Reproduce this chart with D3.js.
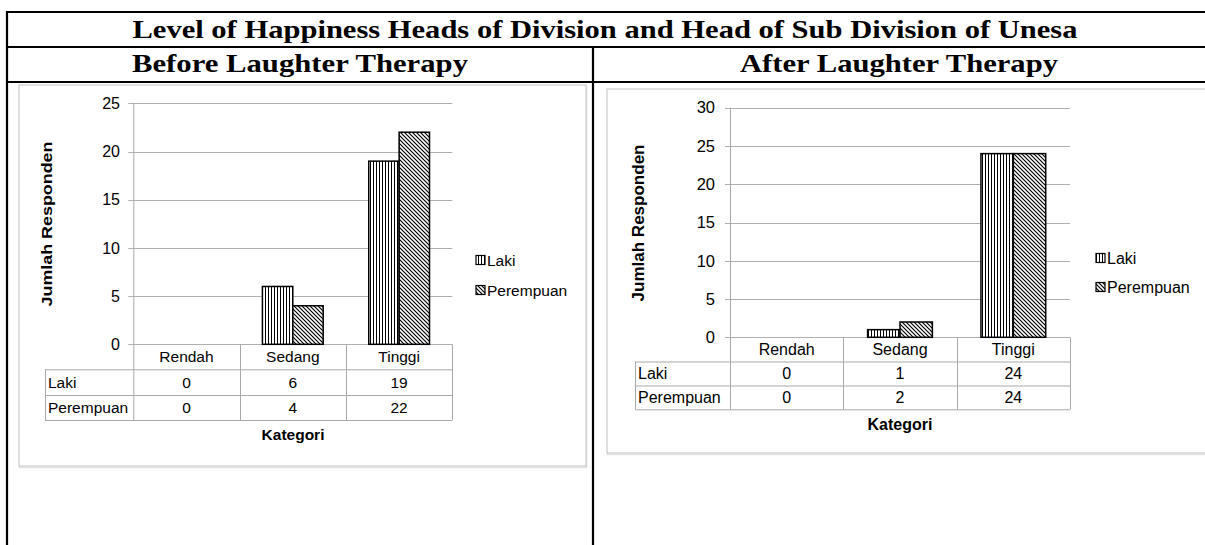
<!DOCTYPE html>
<html><head><meta charset="utf-8">
<script src="https://cdn.jsdelivr.net/npm/d3@7"></script>
<style>body{margin:0;background:#fff}svg{display:block}</style>
</head><body><svg id="c" width="1205" height="545"></svg>
<script>
const mainTitle = "Level of Happiness Heads of Division and Head of Sub Division of Unesa";
const subTitles = ["Before Laughter Therapy", "After Laughter Therapy"];
const categories = ["Rendah", "Sedang", "Tinggi"];
const seriesNames = ["Laki", "Perempuan"];
const beforeLaki = [0, 6, 19];
const beforePerempuan = [0, 4, 22];
const afterLaki = [0, 1, 24];
const afterPerempuan = [0, 2, 24];
const beforeTicks = [0, 5, 10, 15, 20, 25];
const afterTicks = [0, 5, 10, 15, 20, 25, 30];
const yTitle = "Jumlah Responden";
const xTitle = "Kategori";

const svg = d3.select("#c");
const defs = svg.append("defs");
// vertical stripes (Laki)
const p1 = defs.append("pattern").attr("id","pV").attr("patternUnits","userSpaceOnUse").attr("width",3).attr("height",3);
p1.append("rect").attr("width",3).attr("height",3).attr("fill","#fff");
p1.append("rect").attr("x",1).attr("width",1).attr("height",3).attr("fill","#000");
// diagonal stripes (Perempuan) "\"
const p2 = defs.append("pattern").attr("id","pD").attr("patternUnits","userSpaceOnUse").attr("width",4).attr("height",4);
p2.append("rect").attr("width",4).attr("height",4).attr("fill","#fff");
p2.append("path").attr("d","M-1,-1L5,5M-1,3L1,5M3,-1L5,1").attr("stroke","#000").attr("stroke-width",1.2);
const fills = ["url(#pV)","url(#pD)"];

// Outer document table
const tbl = svg.append("g");
const blk = (x1,y1,x2,y2)=>tbl.append("line").attr("x1",x1).attr("y1",y1).attr("x2",x2).attr("y2",y2).attr("stroke","#000").attr("stroke-width",2.2);
blk(6,12,1205,12); blk(6,47,1205,47); blk(6,82,1205,82);
blk(7,11,7,545); blk(593,47,593,545);

const serif = "'Liberation Serif','Times New Roman',serif";
svg.append("text").attr("x",605).attr("y",38).attr("text-anchor","middle")
  .attr("font-family",serif).attr("font-weight","bold").attr("font-size",26)
  .attr("textLength",945).attr("lengthAdjust","spacingAndGlyphs").text(mainTitle);
svg.append("text").attr("x",300).attr("y",72).attr("text-anchor","middle")
  .attr("font-family",serif).attr("font-weight","bold").attr("font-size",26)
  .attr("textLength",336).attr("lengthAdjust","spacingAndGlyphs").text(subTitles[0]);
svg.append("text").attr("x",899).attr("y",72).attr("text-anchor","middle")
  .attr("font-family",serif).attr("font-weight","bold").attr("font-size",26)
  .attr("textLength",318).attr("lengthAdjust","spacingAndGlyphs").text(subTitles[1]);

const sans = "'Liberation Sans',Arial,sans-serif";

function drawChart(c) {
  const g = svg.append("g");
  // chart frame
  g.append("rect").attr("x",c.box[0]+0.5).attr("y",c.box[1]+1.5).attr("width",c.box[2]-c.box[0]).attr("height",c.box[3]-c.box[1])
    .attr("fill","none").attr("stroke","#e2e2e2").attr("stroke-width",1.5);
  g.append("rect").attr("x",c.box[0]).attr("y",c.box[1]).attr("width",c.box[2]-c.box[0]).attr("height",c.box[3]-c.box[1])
    .attr("fill","#fff").attr("stroke","#c4c4c4").attr("stroke-width",1);

  const y = d3.scaleLinear().domain([0, d3.max(c.ticks)]).range([c.y0, c.yTop]);
  const x = d3.scaleBand().domain(categories).range([c.xL, c.xR]).paddingInner(0.4286).paddingOuter(0.2143);
  const xs = d3.scaleBand().domain(seriesNames).range([0, x.bandwidth()]);
  const step = x.step();

  // gridlines
  g.append("g").selectAll("line").data(c.ticks).join("line")
    .attr("x1",c.xL-5).attr("x2",c.xR).attr("y1",d=>Math.round(y(d))+0.5).attr("y2",d=>Math.round(y(d))+0.5)
    .attr("stroke","#b0b0b0").attr("stroke-width",1);
  // y axis labels
  const ya = d3.axisLeft(y).tickValues(c.ticks).tickSize(0).tickPadding(0);
  const yg = g.append("g").attr("transform",`translate(${c.tickLabelX},0)`).call(ya);
  yg.select(".domain").remove();
  yg.selectAll("text").attr("font-family",sans).attr("font-size",c.fs+0.5).attr("fill","#000");

  // bars
  const vals = [c.laki, c.perempuan];
  seriesNames.forEach((s,si)=>{
    g.append("g").selectAll("rect").data(categories.map((cat,i)=>({cat,v:vals[si][i]}))).join("rect")
      .attr("x",d=>x(d.cat)+xs(s)).attr("width",xs.bandwidth())
      .attr("y",d=>y(d.v)).attr("height",d=>y(0)-y(d.v))
      .attr("fill",fills[si]).attr("stroke",d=>d.v>0?"#000":"none").attr("stroke-width",1.5);
  });

  // data table grid
  const tg = g.append("g").attr("stroke","#a8a8a8").attr("stroke-width",1).attr("fill","none");
  const rows = c.rows; // [axis, header bottom, row1 bottom, row2 bottom]
  tg.append("line").attr("x1",c.xL+0.5).attr("x2",c.xL+0.5).attr("y1",c.yTop).attr("y2",rows[3]);
  categories.forEach((cat,i)=>{
    const xx = Math.round(c.xL + step*(i+1))+0.5;
    tg.append("line").attr("x1",xx).attr("x2",xx).attr("y1",rows[0]).attr("y2",rows[3]);
  });
  tg.append("line").attr("x1",c.tableL).attr("x2",c.xR).attr("y1",rows[1]+0.5).attr("y2",rows[1]+0.5);
  tg.append("line").attr("x1",c.tableL).attr("x2",c.xR).attr("y1",rows[2]+0.5).attr("y2",rows[2]+0.5);
  tg.append("line").attr("x1",c.tableL).attr("x2",c.xR).attr("y1",rows[3]+0.5).attr("y2",rows[3]+0.5);
  tg.append("line").attr("x1",c.tableL+0.5).attr("x2",c.tableL+0.5).attr("y1",rows[1]).attr("y2",rows[3]);

  const tx = g.append("g").attr("font-family",sans).attr("font-size",c.fs).attr("fill","#000");
  categories.forEach((cat,i)=>{
    const cx = c.xL + step*(i+0.5);
    tx.append("text").attr("x",cx).attr("y",(rows[0]+rows[1])/2).attr("dy","0.36em").attr("text-anchor","middle").text(cat);
    vals.forEach((arr,si)=>{
      tx.append("text").attr("x",cx).attr("y",(rows[si+1]+rows[si+2])/2).attr("dy","0.36em").attr("text-anchor","middle").text(arr[i]);
    });
  });
  seriesNames.forEach((s,si)=>{
    tx.append("text").attr("x",c.tableL+3).attr("y",(rows[si+1]+rows[si+2])/2).attr("dy","0.36em").text(s);
  });

  // axis titles
  g.append("text").attr("x",c.xTitle[0]).attr("y",c.xTitle[1]).attr("dy","0.36em").attr("text-anchor","middle")
    .attr("font-family",sans).attr("font-weight","bold").attr("font-size",c.fs).text(xTitle);
  g.append("text").attr("transform",`translate(${c.yTitle[0]},${c.yTitle[1]}) rotate(-90)`).attr("dy","0.36em")
    .attr("text-anchor","middle").attr("font-family",sans).attr("font-weight","bold").attr("font-size",c.fs)
    .attr("textLength",c.yTitle[2]).attr("lengthAdjust","spacingAndGlyphs").text(yTitle);

  // legend
  const lg = g.append("g");
  seriesNames.forEach((s,si)=>{
    const cy = c.legend[1] + si*c.legend[2];
    lg.append("rect").attr("x",c.legend[0]).attr("y",cy-4.5).attr("width",9).attr("height",9)
      .attr("fill",fills[si]).attr("stroke","#000").attr("stroke-width",1.2);
    lg.append("text").attr("x",c.legend[0]+11).attr("y",cy).attr("dy","0.36em")
      .attr("font-family",sans).attr("font-size",c.fs).text(s);
  });
}

drawChart({box:[19,85,586,466], ticks:beforeTicks, laki:beforeLaki, perempuan:beforePerempuan,
  y0:344.3, yTop:103.3, xL:133.3, xR:452.3, tickLabelX:120, fs:15.5,
  rows:[344.3,369.3,395,420], tableL:45, xTitle:[293,434], yTitle:[46.7,224,165], legend:[476,260,30]});
drawChart({box:[607,89,1215,453], ticks:afterTicks, laki:afterLaki, perempuan:afterPerempuan,
  y0:337.3, yTop:107.7, xL:730, xR:1070, tickLabelX:715, fs:16,
  rows:[337.3,361.5,385.5,409.3], tableL:635, xTitle:[900,424], yTitle:[638,223,157], legend:[1096,258,29]});
</script></body></html>
